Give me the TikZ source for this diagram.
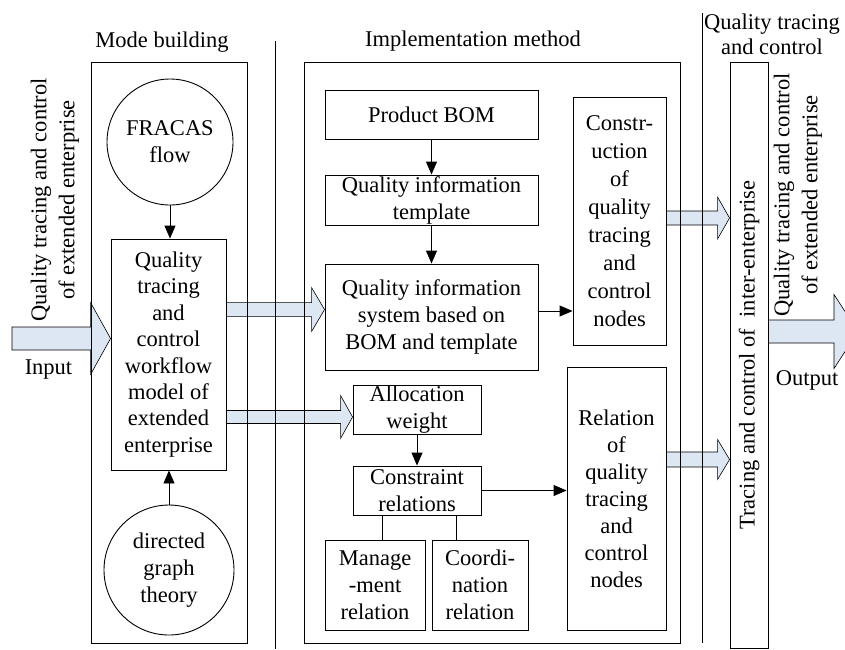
\documentclass[tikz,border=0pt]{standalone}
\usepackage{fontspec}
\setmainfont{Liberation Serif}
\usepackage{xcolor}
\usepackage{tikz}
\usetikzlibrary{arrows.meta}
\usetikzlibrary{positioning,calc,backgrounds}
\definecolor{fatblue}{RGB}{221,230,243}
\newcommand{\fatarrow}[5]{%
  \draw[fat] let \p1=(#1), \p2=(#2) in
    (\x1,\y1+#3pt) -- (\x2-#5pt,\y1+#3pt) -- (\x2-#5pt,\y1+#4pt) -- (\x2,\y1)
    -- (\x2-#5pt,\y1-#4pt) -- (\x2-#5pt,\y1-#3pt) -- (\x1,\y1-#3pt) -- cycle;}

\begin{document}
\begin{tikzpicture}[x=1pt,y=-1pt,line width=0.9pt,
	every node/.style={font=\fontsize{22.5}{27}\selectfont},
	box/.style={draw,align=center,inner sep=0pt},
	turned/.style={rotate=90,align=center,font=\fontsize{22.5}{28}\selectfont},
	fat/.style={draw,fill=fatblue,line width=0.6pt},
	>={Triangle[length=13pt,width=11pt]}]
		
		\useasboundingbox (0,0) rectangle (845,649);
		\clip (0,0) rectangle (845,649);
		
		% panels and titles
		\node[box,minimum width=156pt,minimum height=581pt] (mb) at (169,352.5) {};
		\node[box,minimum width=376pt,minimum height=581pt] (im) at (492,352.5) {};
		\node (mbl) at (162,42) {Mode building};
		\node (iml) at (473,41) {Implementation method};
		\node[align=center,font=\fontsize{22.5}{25}\selectfont] (qtl) at (772,34) {Quality tracing\\and control};
		
		\draw (275,41) -- (275,649);
		\draw (702,13) -- (702,643);
		
		% mode building
		\node[draw,circle,minimum size=126pt,inner sep=0pt,align=center] (fr) at (170,142) {FRACAS\\flow};
		\node[box,minimum width=115pt,minimum height=231pt,font=\fontsize{22.5}{26.4}\selectfont] (wf) at (168.5,354.5) {Quality\\tracing\\and\\control\\workflow\\model of\\extended\\enterprise};
		\node[draw,circle,minimum size=130pt,inner sep=0pt,align=center] (dg) at (169,570) {directed\\graph\\theory};
		
		% implementation method
		\node[box,minimum width=213pt,minimum height=49pt] (bom) at (431.5,114.5) {Product BOM};
		\node[box,minimum width=213pt,minimum height=50pt] (tpl) at (431.5,200) {Quality information\\template};
		\node[box,minimum width=213pt,minimum height=106pt] (sys) at (431.5,317) {Quality information\\system based on\\BOM and template};
		\node[box,minimum width=93pt,minimum height=248pt,font=\fontsize{22.5}{28}\selectfont] (con) at (619.5,221) {Constr-\\uction\\of\\quality\\tracing\\and\\control\\nodes};
		\node[box,minimum width=128pt,minimum height=49pt] (aw) at (417,409.5) {Allocation\\weight};
		\node[box,minimum width=128pt,minimum height=49pt] (cr) at (417,490.5) {Constraint\\relations};
		\node[box,minimum width=100pt,minimum height=90pt] (mr) at (375,585) {Manage\\-ment\\relation};
		\node[box,minimum width=96pt,minimum height=90pt] (cor) at (480,585) {Coordi-\\nation\\relation};
		\node[box,minimum width=99pt,minimum height=263pt] (rel) at (616.5,498.5) {Relation\\of\\quality\\tracing\\and\\control\\nodes};
		
		% tracing and control
		\node[box,minimum width=38pt,minimum height=586pt] (te) at (749,355) {};
		\node[turned] (tet) at (te.center) {Tracing and control of \ inter-enterprise};
		
		\node[turned] (qin) at (55,200) {Quality tracing and control\\of extended enterprise};
		\node[turned] (qout) at (798,195) {Quality tracing and control\\of extended enterprise};
		\node (in) at (48.5,370) {Input};
		\node (out) at (807,380) {Output};
		
		\path[->]
		(fr.south) edge (fr.south |- wf.north)
		(dg.north) edge (dg.north |- wf.south)
		(bom) edge (tpl)
		(tpl) edge (sys)
		(aw) edge (cr)
		([yshift=6pt]sys.east) edge ([yshift=6pt]sys.east -| con.west)
		(cr.east) edge (cr.east -| rel.west)
		;
		\draw ([xshift=7pt]mr.north) -- ([xshift=7pt]mr.north |- cr.south);
		\draw ([xshift=-24pt]cor.north) -- ([xshift=-24pt]cor.north |- cr.south);
		
		% block arrows
		\coordinate (inp) at (12,338.5);
		\coordinate (outp) at (858,331.5);
		\begin{scope}[on background layer]
		\fatarrow{inp}{wf.west}{11.5}{36}{20}
		\fatarrow{[yshift=-71pt]wf.north east}{sys.west}{7}{22}{13}
		\fatarrow{[yshift=53.5pt]wf.south east}{aw.west}{6.5}{21.5}{12}
		\fatarrow{[yshift=3pt]con.east}{te.west}{7}{21}{12}
		\fatarrow{[yshift=39pt]rel.east}{te.west}{7.5}{20}{12}
		\fatarrow{[yshift=23.5pt]te.east}{outp}{11.5}{37}{24}
		\end{scope}
		\end{tikzpicture}
\end{document}
